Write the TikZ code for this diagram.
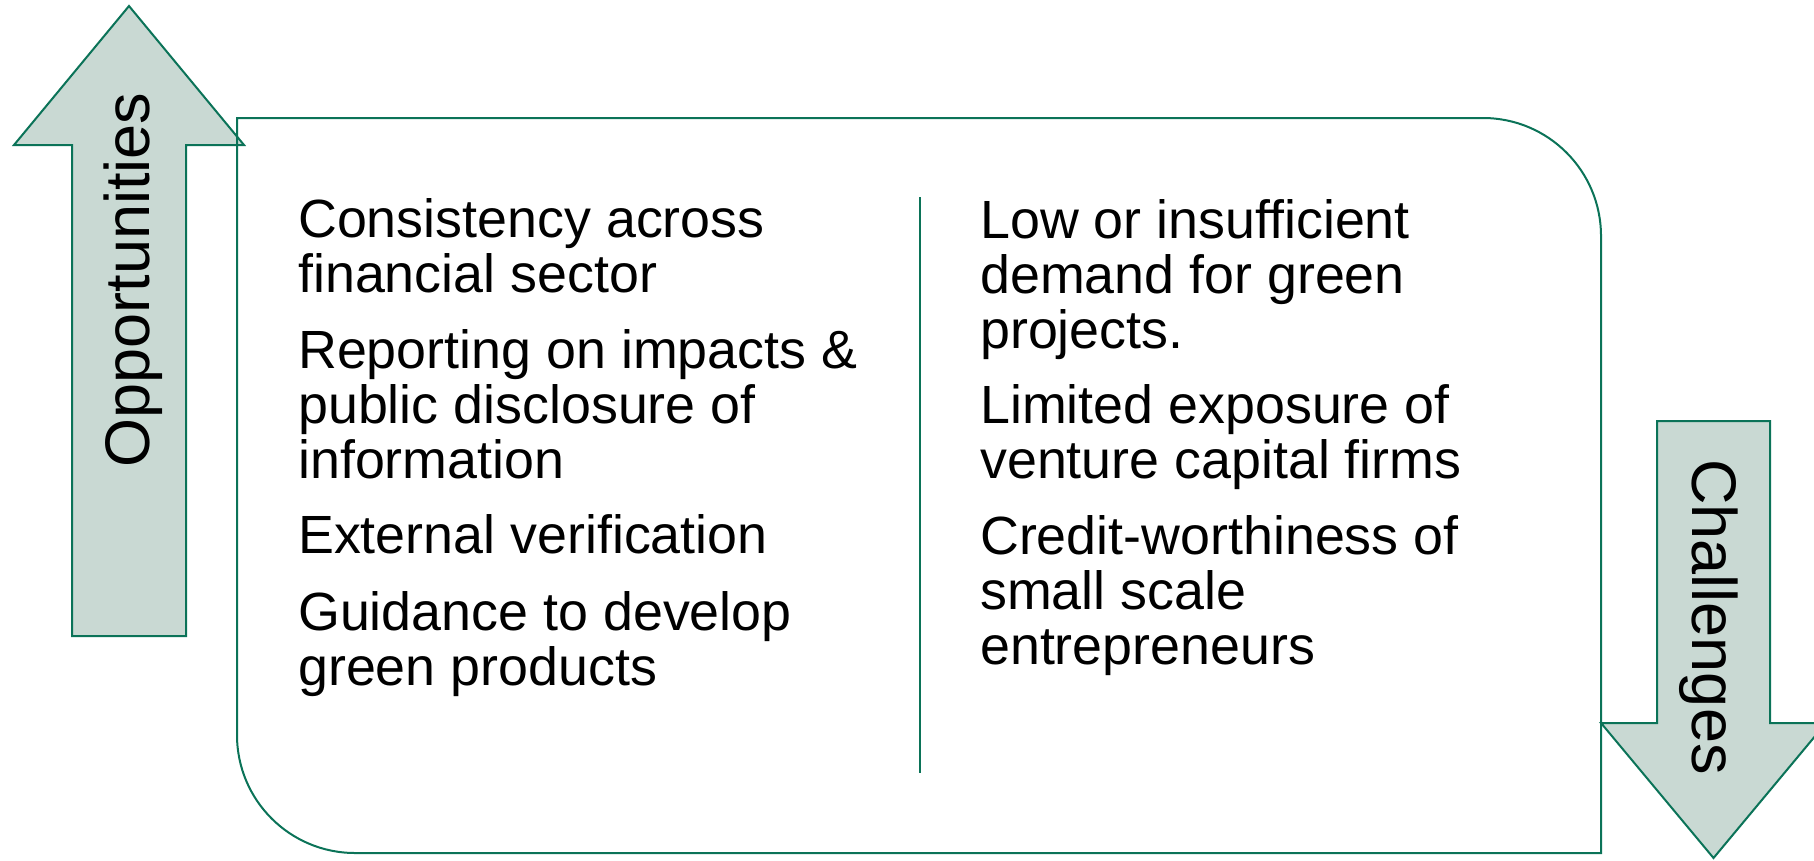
\documentclass[tikz,border=0pt]{standalone}
\usepackage{fontspec}
\setmainfont{Liberation Sans}
\definecolor{edgegreen}{HTML}{0B7358}
\definecolor{arrowfill}{HTML}{C9D9D3}
\tikzset{
  arrowshape/.style={draw=edgegreen, fill=arrowfill, line width=2pt, line join=miter},
  boxline/.style={draw=edgegreen, line width=2pt},
  itemtext/.style={anchor=base west, inner sep=0pt, font=\fontsize{53.8}{54.5}\selectfont},
  arrowlabel/.style={anchor=base, inner sep=0pt, font=\fontsize{63}{66}\selectfont},
}
\begin{document}
\begin{tikzpicture}[x=1pt,y=-1pt]
\useasboundingbox (0,0) rectangle (1814,860);
\clip (0,0) rectangle (1814,860);
% up arrow (Opportunities)
\draw[arrowshape] (129,6) -- (244,145) -- (186,145) -- (186,636) -- (72,636) -- (72,145) -- (14,145) -- cycle;
% down arrow (Challenges)
\draw[arrowshape] (1657,421) -- (1770,421) -- (1770,723) -- (1826,723) -- (1713.5,858) -- (1601,723) -- (1657,723) -- cycle;
% main box
\draw[boxline] (237,118) -- (1483,118) arc[start angle=-90,end angle=0,radius=118] -- (1601,853) -- (355,853) arc[start angle=90,end angle=180,radius=118] -- cycle;
% divider
\coordinate (dtop) at (920,197);
\coordinate (dbot) at (920,773);
\draw[boxline] (dtop) -- (dbot);
% arrow labels
\node[arrowlabel, rotate=90] (opp) at (149,280) {Opportunities};
\node[arrowlabel, rotate=-90] (chal) at (1692,617) {Challenges};
% left column
\def\arraystretch{1}
\node[itemtext] (l1) at (298,237) {\begin{tabular}[t]{@{}l@{}}Consistency across\\financial sector\end{tabular}};
\node[itemtext] (l2) at (298,368) {\begin{tabular}[t]{@{}l@{}}Reporting on impacts \&\\public disclosure of\\information\end{tabular}};
\node[itemtext] (l3) at (298,553.5) {External verification};
\node[itemtext] (l4) at (298,630) {\begin{tabular}[t]{@{}l@{}}Guidance to develop\\green products\end{tabular}};
% right column
\node[itemtext] (r1) at (980,238) {\begin{tabular}[t]{@{}l@{}}Low or insufficient\\demand for green\\projects.\end{tabular}};
\node[itemtext] (r2) at (980,423.5) {\begin{tabular}[t]{@{}l@{}}Limited exposure of\\venture capital firms\end{tabular}};
\node[itemtext] (r3) at (980,554.5) {\begin{tabular}[t]{@{}l@{}}Credit-worthiness of\\small scale\\entrepreneurs\end{tabular}};
\end{tikzpicture}
\end{document}
